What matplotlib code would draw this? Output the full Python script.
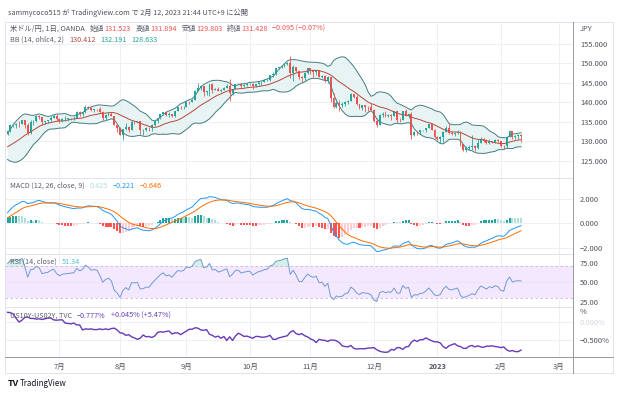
import matplotlib
matplotlib.use("Agg")
import matplotlib.pyplot as plt
from matplotlib.patches import Rectangle
from matplotlib.lines import Line2D
import numpy as np
import pandas as pd

plt.rcParams['font.family'] = ['Noto Sans CJK JP', 'DejaVu Sans']

# daily USD/JPY (OANDA) bars, April 2022 is only warm-up for the indicators
start = "2022-04-01"
end = "2023-02-10"
first_shown = "2022-06-07"

opens = [
    # Apr
    121.7, 122.5, 122.8, 123.6, 123.7, 123.9, 124.3, 125.4, 125.4, 125.6, 125.9,
    126.4, 126.9, 127.9, 128.3, 128.4, 128.5, 128.1, 127.2, 128.4, 130.8,
    # May
    129.7, 130.1, 130.1, 129.1, 130.2, 130.6, 130.3, 130.4, 129.9, 128.3, 129.2,
    129.2, 129.4, 128.2, 127.8, 127.9, 127.9, 126.9, 127.3, 127.1, 127.1, 127.6,
    # Jun
    128.7, 130.0, 129.9, 130.8, 131.9, 132.6, 134.2, 134.3, 134.5, 134.4, 135.4,
    134.2, 132.2, 135.0, 135.1, 136.6, 136.2, 134.9, 135.2, 135.4, 136.1, 136.6,
    # Jul
    135.7, 135.2, 135.7, 135.8, 135.9, 136.0, 136.1, 137.4, 137.0, 137.4, 138.9,
    138.6, 138.1, 138.3, 138.2, 137.4, 136.1, 136.7, 137.0, 136.5, 134.2,
    # Aug
    133.3, 131.6, 133.1, 133.8, 133.0, 135.0, 134.9, 135.1, 132.9, 133.0, 133.4,
    133.3, 134.2, 135.1, 135.9, 136.9, 137.5, 136.8, 137.1, 136.6, 137.7, 138.8, 138.7,
    # Sep
    138.9, 140.2, 140.1, 140.6, 142.8, 143.7, 144.1, 142.6, 142.8, 144.6, 143.2,
    143.5, 142.9, 143.2, 143.7, 144.1, 142.4, 143.3, 144.7, 144.8, 144.2, 144.5,
    # Oct
    144.7, 144.8, 144.1, 144.6, 145.1, 145.3, 145.7, 145.8, 146.9, 147.2, 148.7,
    149.0, 149.3, 149.9, 150.1, 147.6, 149.0, 148.0, 146.4, 146.3, 147.5,
    # Nov
    148.7, 148.2, 147.9, 148.3, 146.6, 146.8, 145.6, 146.4, 141.0, 138.8, 139.9,
    139.3, 139.5, 140.2, 140.4, 142.1, 141.3, 139.5, 138.6, 139.2, 138.9, 138.8,
    # Dec
    138.1, 135.3, 134.3, 136.7, 137.1, 136.5, 136.7, 136.6, 137.7, 135.6, 135.5,
    137.7, 136.6, 136.9, 131.7, 132.5, 132.3, 132.8, 132.9, 133.5, 134.4, 133.0,
    # Jan
    131.1, 130.7, 131.0, 132.5, 133.4, 132.1, 131.9, 132.2, 132.4, 129.2, 127.9,
    128.2, 128.5, 128.9, 128.4, 129.6, 130.7, 130.2, 129.6, 130.2, 129.9, 130.4,
    # Feb
    130.1, 128.9, 128.7, 131.2, 132.6, 131.1, 131.4, 131.523,
]
highs = [
    123.0, 123.2, 123.7, 123.9, 124.1, 124.7, 125.8, 125.6, 125.8, 126.1, 126.6,
    127.0, 128.0, 129.4, 128.7, 128.8, 128.6, 128.3, 128.5, 131.2, 131.2,
    130.4, 130.3, 130.4, 130.5, 130.8, 131.3, 130.5, 130.8, 130.0, 129.4, 129.6,
    129.5, 129.6, 128.8, 128.2, 128.3, 128.1, 127.4, 127.4, 127.4, 127.9, 128.9,
    130.2, 130.2, 130.9, 132.0, 133.0, 134.5, 134.6, 134.6, 135.2, 135.6, 135.6,
    134.7, 135.4, 135.4, 136.7, 136.7, 136.2, 135.3, 135.6, 136.4, 137.0, 136.9,
    135.9, 135.9, 136.4, 136.0, 136.1, 136.6, 137.7, 137.7, 137.9, 139.4, 139.0,
    138.9, 138.4, 138.4, 138.9, 137.8, 136.9, 137.5, 137.5, 136.6, 134.5,
    133.6, 133.2, 134.6, 134.0, 135.5, 135.2, 135.1, 135.1, 133.2, 133.7, 133.6,
    134.4, 135.5, 136.0, 137.0, 137.6, 137.7, 137.4, 137.1, 137.8, 138.9, 139.0, 139.1,
    140.3, 140.4, 140.8, 143.1, 145.0, 144.5, 144.1, 143.0, 144.7, 144.9, 143.8,
    143.9, 143.4, 144.0, 144.7, 145.9, 143.4, 144.8, 144.9, 144.9, 144.6, 144.9,
    145.0, 144.9, 144.6, 145.2, 145.4, 145.9, 145.9, 146.9, 147.7, 148.9, 149.1,
    149.3, 150.0, 150.3, 151.9, 149.7, 149.1, 148.1, 146.7, 147.9, 148.8,
    148.8, 148.2, 148.4, 148.4, 147.0, 146.9, 146.8, 146.6, 142.5, 140.8, 140.7,
    140.1, 140.4, 140.5, 142.3, 142.2, 141.8, 139.7, 139.2, 139.4, 139.0, 139.9,
    138.2, 135.9, 136.9, 137.4, 137.9, 137.1, 136.9, 137.9, 137.9, 136.0, 137.9,
    138.2, 137.3, 137.5, 132.7, 132.7, 132.9, 133.0, 133.5, 134.5, 134.5, 133.1,
    131.3, 131.4, 132.7, 134.0, 134.8, 132.7, 132.3, 132.9, 132.7, 129.3, 128.9,
    129.0, 131.6, 129.0, 130.6, 131.1, 130.9, 130.5, 130.6, 130.2, 130.5, 130.5,
    130.1, 129.0, 131.2, 132.9, 132.6, 131.6, 131.9, 131.894,
]
lows = [
    121.3, 122.3, 122.4, 123.2, 123.4, 123.8, 124.2, 124.6, 125.0, 125.1, 125.8,
    126.2, 126.8, 127.7, 127.5, 127.7, 127.7, 126.9, 127.0, 128.4, 129.3,
    129.6, 129.8, 128.6, 128.9, 129.8, 130.2, 129.8, 129.6, 127.5, 128.0, 128.6,
    128.9, 128.1, 127.0, 127.0, 127.6, 126.4, 126.4, 126.6, 126.7, 127.0, 127.4,
    128.6, 129.5, 129.7, 130.4, 131.6, 132.5, 133.6, 133.3, 133.6, 134.4, 133.5,
    131.5, 132.0, 134.3, 134.9, 135.7, 134.3, 134.5, 134.6, 135.1, 136.0, 135.6,
    134.7, 134.9, 135.3, 135.2, 135.4, 135.6, 136.0, 136.6, 136.4, 137.3, 138.4,
    137.9, 137.4, 137.9, 137.3, 135.6, 135.6, 136.4, 136.4, 134.2, 132.5,
    131.6, 130.4, 132.9, 132.5, 132.8, 134.4, 134.6, 132.0, 131.7, 132.6, 132.6,
    132.6, 133.9, 134.6, 135.7, 136.7, 136.4, 136.2, 136.2, 136.2, 137.7, 138.4, 138.2,
    138.8, 139.6, 140.0, 140.5, 142.8, 143.2, 141.5, 142.0, 141.6, 142.5, 143.1,
    142.9, 142.7, 143.1, 143.6, 140.3, 142.0, 143.3, 144.4, 143.6, 144.0, 144.3,
    144.5, 143.5, 143.9, 144.5, 144.5, 145.2, 145.4, 145.6, 146.4, 147.1, 148.6,
    148.8, 149.1, 149.7, 146.2, 145.5, 147.8, 146.0, 145.1, 145.7, 147.3,
    147.2, 146.5, 147.1, 146.4, 146.2, 145.3, 145.0, 140.2, 138.5, 138.5, 137.7,
    138.9, 139.1, 139.6, 140.3, 141.0, 139.4, 138.2, 138.1, 137.5, 137.9, 137.9,
    135.0, 133.6, 134.1, 136.3, 136.3, 136.3, 135.6, 136.5, 134.7, 134.9, 135.5,
    136.4, 136.0, 130.6, 131.3, 131.6, 131.9, 132.6, 132.5, 133.4, 132.9, 130.8,
    130.4, 129.5, 129.9, 132.3, 131.9, 131.6, 131.3, 132.0, 128.9, 127.5, 127.2,
    127.9, 127.9, 127.6, 128.0, 129.5, 129.9, 129.2, 129.2, 129.5, 129.6, 129.8,
    128.6, 128.1, 128.3, 131.2, 130.5, 130.5, 130.6, 129.803,
]
closes = [
    122.5, 122.8, 123.6, 123.7, 123.9, 124.3, 125.4, 125.4, 125.6, 125.9, 126.4,
    126.9, 127.9, 128.3, 128.4, 128.5, 128.1, 127.2, 128.4, 130.8, 129.7,
    130.1, 130.1, 129.1, 130.2, 130.6, 130.3, 130.4, 129.9, 128.3, 129.2, 129.2,
    129.4, 128.2, 127.8, 127.9, 127.9, 126.9, 127.3, 127.1, 127.1, 127.6, 128.7,
    130.0, 129.9, 130.8, 131.9, 132.6, 134.2, 134.3, 134.5, 134.4, 135.4, 134.2,
    132.2, 135.0, 135.1, 136.6, 136.2, 134.9, 135.2, 135.4, 136.1, 136.6, 135.7,
    135.2, 135.7, 135.8, 135.9, 136.0, 136.1, 137.4, 137.0, 137.4, 138.9, 138.6,
    138.1, 138.3, 138.2, 137.4, 136.1, 136.7, 137.0, 136.5, 134.2, 133.3,
    131.6, 133.1, 133.8, 133.0, 135.0, 134.9, 135.1, 132.9, 133.0, 133.4, 133.3,
    134.2, 135.1, 135.9, 136.9, 137.5, 136.8, 137.1, 136.6, 137.7, 138.8, 138.7, 138.9,
    140.2, 140.1, 140.6, 142.8, 143.7, 144.1, 142.6, 142.8, 144.6, 143.2, 143.5,
    142.9, 143.2, 143.7, 144.1, 142.4, 143.3, 144.7, 144.8, 144.2, 144.5, 144.7,
    144.8, 144.1, 144.6, 145.1, 145.3, 145.7, 145.8, 146.9, 147.2, 148.7, 149.0,
    149.3, 149.9, 150.1, 147.6, 149.0, 148.0, 146.4, 146.3, 147.5, 148.7,
    148.2, 147.9, 148.3, 146.6, 146.8, 145.6, 146.4, 141.0, 138.8, 139.9, 139.3,
    139.5, 140.2, 140.4, 142.1, 141.3, 139.5, 138.6, 139.2, 138.9, 138.8, 138.1,
    135.3, 134.3, 136.7, 137.1, 136.5, 136.7, 136.6, 137.7, 135.6, 135.5, 137.7,
    136.6, 136.9, 131.7, 132.5, 132.3, 132.8, 132.9, 133.5, 134.4, 133.0, 131.1,
    130.7, 131.0, 132.5, 133.4, 132.1, 131.9, 132.2, 132.4, 129.2, 127.9, 128.2,
    128.5, 128.9, 128.4, 129.6, 130.7, 130.2, 129.6, 130.2, 129.9, 130.4, 130.1,
    128.9, 128.7, 131.2, 132.6, 131.1, 131.4, 131.523, 131.428,
]

# US10Y-US02Y (%), shown days only (from 2022-06-07)
spread = [
    0.27, 0.26, 0.22, 0.10, 0.00, 0.05, 0.13, 0.14, 0.10, 0.10, 0.08, 0.09,
    0.07, 0.09, 0.11, 0.11, 0.06, 0.05,
    0.06, 0.06, -0.03, -0.04, -0.05, -0.03, -0.08, -0.08, -0.22, -0.19, -0.20,
    -0.19, -0.21, -0.21, -0.19, -0.21, -0.19, -0.21, -0.18, -0.17, -0.22,
    -0.30, -0.31, -0.37, -0.35, -0.41, -0.44, -0.48, -0.45, -0.36, -0.41, -0.40,
    -0.43, -0.39, -0.29, -0.27, -0.28, -0.26, -0.25, -0.33, -0.30, -0.30, -0.35, -0.30,
    -0.25, -0.20, -0.20, -0.16, -0.17, -0.22, -0.23, -0.21, -0.34, -0.37, -0.42,
    -0.39, -0.45, -0.40, -0.51, -0.41, -0.51, -0.39, -0.31, -0.35, -0.40, -0.39,
    -0.42, -0.45, -0.40, -0.40, -0.42, -0.42, -0.40, -0.37, -0.48, -0.48, -0.44,
    -0.42, -0.40, -0.38, -0.28, -0.24, -0.32, -0.35, -0.32, -0.38, -0.41,
    -0.47, -0.50, -0.57, -0.48, -0.50, -0.51, -0.54, -0.50, -0.50, -0.52, -0.57,
    -0.66, -0.68, -0.69, -0.65, -0.73, -0.75, -0.74, -0.74, -0.74, -0.72, -0.72,
    -0.71, -0.77, -0.81, -0.83, -0.84, -0.83, -0.76, -0.78, -0.71, -0.71, -0.76,
    -0.69, -0.68, -0.56, -0.50, -0.54, -0.49, -0.49, -0.44, -0.48, -0.52, -0.55,
    -0.55, -0.58, -0.68, -0.73, -0.66, -0.63, -0.60, -0.66, -0.68, -0.73, -0.73,
    -0.67, -0.65, -0.69, -0.66, -0.69, -0.70, -0.67, -0.67, -0.66, -0.68, -0.69,
    -0.71, -0.69, -0.77, -0.81, -0.79, -0.82, -0.822, -0.777,
]

month_labels = ["7月", "8月", "9月", "10月", "11月", "12月", "2023", "2月", "3月"]
month_starts = ["2022-07-01", "2022-08-01", "2022-09-01", "2022-10-03", "2022-11-01",
                "2022-12-01", "2023-01-02", "2023-02-01", "2023-03-01"]

dates = pd.bdate_range(start, end)
df = pd.DataFrame({"o": opens, "h": highs, "l": lows, "c": closes}, index=dates)
first = dates.get_loc(pd.Timestamp(first_shown))

# indicators as TradingView computes them
src = (df.o + df.h + df.l + df.c) / 4
basis = src.rolling(14).mean()
dev = 2 * src.rolling(14).std(ddof=0)
upper, lower = basis + dev, basis - dev

macd = df.c.ewm(span=12, adjust=False).mean() - df.c.ewm(span=26, adjust=False).mean()
signal = macd.ewm(span=9, adjust=False).mean()
hist = macd - signal

d = df.c.diff()
gain = d.clip(lower=0).ewm(alpha=1 / 14, adjust=False).mean()
loss = (-d.clip(upper=0)).ewm(alpha=1 / 14, adjust=False).mean()
rsi = 100 - 100 / (1 + gain / loss)

W, H = 618, 404
fig = plt.figure(figsize=(W / 100, H / 100), dpi=100)


def box(x0, y0, x1, y1):
    return [x0 / W, 1 - y1 / H, (x1 - x0) / W, (y1 - y0) / H]


L, R = 5, 573
ax1 = fig.add_axes(box(L, 22, R, 178))
ax2 = fig.add_axes(box(L, 178, R, 254))
ax3 = fig.add_axes(box(L, 254, R, 307))
ax4 = fig.add_axes(box(L, 307, R, 357))

all_days = pd.bdate_range(start, "2023-03-31")
tick_x = [all_days.get_loc(pd.Timestamp(m)) for m in month_starts]
xlim = (first - 0.87, first + 196)

grid_c = "#eceff4"
lab_c = "#50535e"
for ax in (ax1, ax2, ax3, ax4):
    ax.set_xlim(*xlim)
    for s in ax.spines.values():
        s.set_visible(False)
    ax.set_xticks(tick_x)
    ax.grid(True, color=grid_c, lw=0.7)
    ax.set_axisbelow(True)
    ax.yaxis.tick_right()
    ax.tick_params(axis="y", length=0, pad=5, labelsize=5.4, colors=lab_c)
    ax.tick_params(axis="x", length=0, labelbottom=False)

x = np.arange(len(df))[first:]
v = df.iloc[first:]

# price pane
ax1.fill_between(x, lower[first:], upper[first:], color="#e3f2f2", alpha=0.8, lw=0)
ax1.plot(x, upper[first:], color="#457c82", lw=0.7)
ax1.plot(x, lower[first:], color="#457c82", lw=0.7)
ax1.plot(x, basis[first:], color="#b3493a", lw=0.7)
up = v.c >= v.o
cols = np.where(up, "#26a69a", "#ef5350")
ax1.vlines(x, v.l, v.h, colors=cols, lw=0.6)
body = np.maximum((v.c - v.o).abs(), 0.08)
ax1.bar(x, body, bottom=np.minimum(v.o, v.c), width=0.66, color=cols, lw=0)
ax1.set_ylim(120.6, 160.6)
ax1.set_yticks([125, 130, 135, 140, 145, 150, 155])
ax1.set_yticklabels([f"{t:.3f}" for t in [125, 130, 135, 140, 145, 150, 155]])

# MACD pane
hv = hist[first:].values
hp = hist.shift(1)[first:].values
hcol = np.where(hv >= 0, np.where(hv > hp, "#26a69a", "#b2dfdb"),
                np.where(hv < hp, "#ff5252", "#ffcdd2"))
ax2.bar(x, hv, width=0.7, color=hcol, lw=0)
ax2.plot(x, macd[first:], color="#2196f3", lw=0.7)
ax2.plot(x, signal[first:], color="#ff6d00", lw=0.7)
ax2.set_ylim(-2.52, 3.72)
ax2.set_yticks([-2, 0, 2])
ax2.set_yticklabels(["\u22122.000", "0.000", "2.000"])

# RSI pane
ax3.axhspan(30, 70, color="#f3e8fd", lw=0)
ax3.axhline(70, color="#c9b3e6", lw=0.6, ls=(0, (3, 3)))
ax3.axhline(30, color="#c9b3e6", lw=0.6, ls=(0, (3, 3)))
ax3.axhline(50, color="#d8cde8", lw=0.5, ls=(0, (1, 2)))
rv = rsi[first:].values
ax3.fill_between(x, 70, rv, where=rv > 70, color="#b9e6d2", alpha=0.6, lw=0, interpolate=True)
ax3.fill_between(x, 30, rv, where=rv < 30, color="#f7c6c6", alpha=0.6, lw=0, interpolate=True)
ax3.plot(x, rv, color="#6f9bd6", lw=0.7)
ax3.set_ylim(18.7, 85.8)
ax3.set_yticks([25, 50, 75])
ax3.set_yticklabels(["25.00", "50.00", "75.00"])
ax3.grid(False, axis="y")

# spread pane
ax4.plot(x, spread, color="#673ab7", lw=1.0)
ax4.set_ylim(-0.97, 0.417)
ax4.set_yticks([-0.5, 0.0])
ax4.set_yticklabels(["\u22120.500%", "0.000%"])
ax4.get_yticklabels()[1].set_color("#d4d7e0")
ax4.tick_params(axis="x", labelbottom=True, pad=4, labelsize=5.4, colors=lab_c)
ax4.set_xticklabels(month_labels)
for t in ax4.get_xticklabels():
    if t.get_text() == "2023":
        t.set_fontweight("bold")

# frame, pane separators, axis lines
fig.add_artist(Rectangle((L / W, 1 - 373 / H), (613 - L) / W, (373 - 22) / H,
                         transform=fig.transFigure, fill=False, ec="#e0e3eb", lw=0.7))
for yy in (178, 254, 307):
    fig.add_artist(Line2D([L / W, R / W], [1 - yy / H] * 2, color="#e0e3eb", lw=0.7))
fig.add_artist(Line2D([L / W, 613 / W], [1 - 357 / H] * 2, color="#9598a1", lw=0.7))
fig.add_artist(Line2D([R / W, R / W], [1 - 22 / H, 1 - 373 / H], color="#9598a1", lw=0.7))

renderer = fig.canvas.get_renderer()


def rich(x0, y0, parts, size=5.2):
    xx = x0
    for s, col, gap in parts:
        t = fig.text(xx / W, 1 - y0 / H, s, color=col, fontsize=size, va="center", ha="left")
        xx += t.get_window_extent(renderer=renderer).width + gap


red = "#ef5350"
gray = "#5d606b"
rich(8, 13, [("sammycoco515 が TradingView.com で 2月 12, 2023 21:44 UTC+9 に公開", "#50535e", 0)])
rich(10, 29, [("米ドル/円, 1日, OANDA", "#50535e", 5),
              ("始値", gray, 0), ("131.523", red, 5),
              ("高値", gray, 0), ("131.894", red, 5),
              ("安値", gray, 0), ("129.803", red, 5),
              ("終値", gray, 0), ("131.428", red, 4),
              ("\u22120.095 (\u22120.07%)", red, 0)])
rich(10, 40, [("BB (14, ohlc4, 2)", gray, 5), ("130.412", "#b3493a", 5),
              ("132.191", "#26a69a", 5), ("128.633", "#26a69a", 0)])
rich(10, 186, [("MACD (12, 26, close, 9)", gray, 5), ("0.425", "#b2dfdb", 5),
               ("\u22120.221", "#2196f3", 5), ("\u22120.646", "#ff6d00", 0)])
rich(10, 262, [("RSI (14, close)", gray, 5), ("51.34", "#4fc3c7", 0)])
rich(10, 316, [("US10Y-US02Y, TVC", gray, 5), ("\u22120.777%", "#673ab7", 5),
               ("+0.045% (+5.47%)", "#673ab7", 0)])
rich(580, 29, [("JPY", lab_c, 0)], size=5.4)
rich(580, 312, [("%", lab_c, 0)], size=5.4)
rich(8, 384, [("TV", "#131722", 2)], size=6.5)
fig.texts[-1].set_fontweight("bold")
rich(20, 384, [("TradingView", "#131722", 0)], size=5.8)

fig.savefig("out.png", dpi=100)
